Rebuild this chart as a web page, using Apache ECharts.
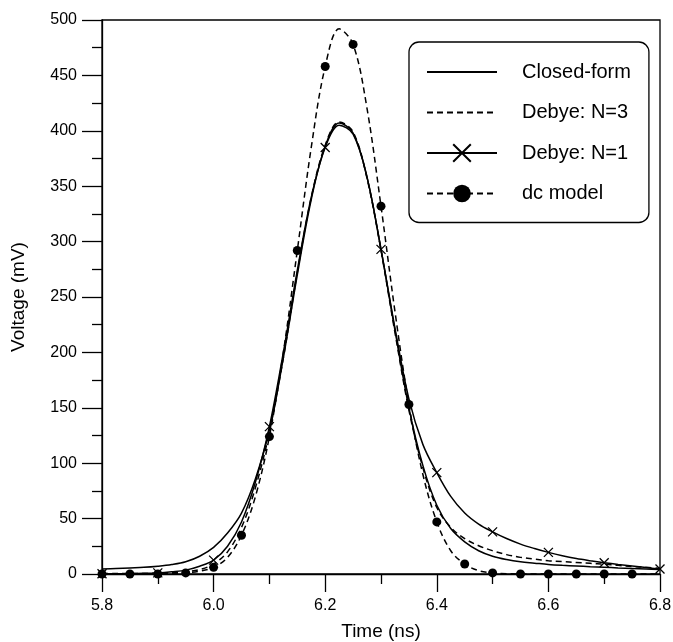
<!DOCTYPE html>
<html>
<head>
<meta charset="utf-8">
<script src="https://cdn.jsdelivr.net/npm/echarts@6/dist/echarts.min.js"></script>
<style>
  html, body { margin: 0; padding: 0; background: #fff; }
  #chart { width: 673px; height: 642px; }
</style>
</head>
<body>
<div id="chart"></div>
<script>
// Sample times (ns), 25 ps apart
const timeNs = [
  5.8, 5.825, 5.85, 5.875, 5.9, 5.925, 5.95, 5.975, 6.0, 6.025,
  6.05, 6.075, 6.1, 6.125, 6.15, 6.175, 6.2, 6.225, 6.25, 6.275,
  6.3, 6.325, 6.35, 6.375, 6.4, 6.425, 6.45, 6.475, 6.5, 6.525,
  6.55, 6.575, 6.6, 6.625, 6.65, 6.675, 6.7, 6.725, 6.75, 6.775, 6.8
];

// Voltage (mV) at each sample time
const closedForm = [
  4.5, 5, 5.5, 6, 7, 8.5, 11, 16, 24, 37,
  55, 86, 130, 195, 270, 338, 386, 407, 398, 358,
  293, 220, 150, 98, 62, 41, 29, 21, 16, 13,
  11, 9.8, 8.6, 7.8, 7.2, 6.6, 6.1, 5.5, 5, 4.5, 4
];
const debyeN3 = [
  0.5, 0.5, 0.5, 0.5, 0.8, 1.2, 2, 4, 9, 20,
  42, 78, 128, 195, 272, 340, 387, 408, 399, 357,
  292, 218, 148, 96, 60, 42, 32, 25.5, 21, 17.5,
  15, 13.5, 12, 11.2, 10.4, 9.6, 8.8, 7.8, 6.8, 6, 5.2
];
const debyeN1 = [
  0.3, 0.3, 0.4, 0.6, 1, 2, 3.5, 7, 12.5, 25,
  47, 83, 133, 200, 274, 340, 385, 405, 397, 358,
  293, 222, 158, 117, 91.5, 70, 55, 45, 38, 32,
  27, 23, 19.5, 16.5, 14, 12, 10.2, 8.6, 7.2, 5.8, 4.5
];
const dcModel = [
  0, 0, 0, 0, 0, 0.3, 1, 2.5, 6, 15,
  35, 70, 124, 200, 292, 385, 458, 492, 478, 420,
  332, 237, 153, 90, 47, 21, 9, 3, 1, 0.3,
  0, 0, 0, 0, 0, 0, 0, 0, 0, 0, 0
];

const seriesNames = ['Closed-form', 'Debye: N=3', 'Debye: N=1', 'dc model'];
const xTicks = { min: 5.8, max: 6.8, step: 0.2 };
const yTicks = { min: 0, max: 500, step: 50 };

const FONT = "'Liberation Sans', Arial, sans-serif";
const INK = '#000';

const pairs = (vals) => timeNs.map((t, i) => [t, vals[i]]);
// true when t lies on a multiple of the given step
const onStep = (t, step) => Math.abs(t / step - Math.round(t / step)) < 1e-6;

const chart = echarts.init(document.getElementById('chart'), null, { renderer: 'canvas' });

chart.setOption({
  backgroundColor: '#fff',
  animation: false,
  grid: {
    left: 102, right: 13, top: 20, bottom: 68,
    containLabel: false,
    outerBoundsMode: 'none',
    show: true, borderColor: INK, borderWidth: 1.3, backgroundColor: 'transparent'
  },
  legend: {
    orient: 'vertical',
    left: 409, top: 42,
    padding: [19, 18, 18, 17],
    itemGap: 18.5,
    itemWidth: 70,
    itemHeight: 22,
    borderColor: INK,
    borderWidth: 1.3,
    borderRadius: 10,
    backgroundColor: '#fff',
    selectedMode: false,
    textStyle: { color: INK, fontFamily: FONT, fontSize: 20, lineHeight: 22, padding: [0, 0, 0, 20] },
    data: [
      { name: seriesNames[0], itemStyle: { opacity: 0 } },
      { name: seriesNames[1], itemStyle: { opacity: 0 } },
      { name: seriesNames[2] },
      { name: seriesNames[3] }
    ]
  },
  xAxis: {
    type: 'value',
    min: xTicks.min, max: xTicks.max, interval: xTicks.step,
    name: 'Time (ns)',
    nameLocation: 'middle',
    nameGap: 48,
    nameTextStyle: { color: INK, fontFamily: FONT, fontSize: 19 },
    axisLine: { show: true, lineStyle: { color: INK, width: 1.3 } },
    axisTick: { show: true, inside: false, length: 18, lineStyle: { color: INK, width: 1.3 } },
    minorTick: { show: true, splitNumber: 2, length: 10, lineStyle: { color: INK, width: 1.3 } },
    splitLine: { show: false },
    axisLabel: {
      color: INK, fontFamily: FONT, fontSize: 16, margin: 24,
      formatter: (v) => v.toFixed(1)
    }
  },
  yAxis: {
    type: 'value',
    min: yTicks.min, max: yTicks.max, interval: yTicks.step,
    name: 'Voltage (mV)',
    nameLocation: 'middle',
    nameGap: 74,
    nameTextStyle: { color: INK, fontFamily: FONT, fontSize: 19 },
    axisLine: { show: true, lineStyle: { color: INK, width: 1.3 } },
    axisTick: { show: true, inside: false, length: 20, lineStyle: { color: INK, width: 1.3 } },
    minorTick: { show: true, splitNumber: 2, length: 10, lineStyle: { color: INK, width: 1.3 } },
    splitLine: { show: false },
    axisLabel: { color: INK, fontFamily: FONT, fontSize: 16, margin: 25 }
  },
  series: [
    {
      name: seriesNames[0],
      type: 'line',
      data: pairs(closedForm),
      smooth: 0.35,
      symbol: 'none',
      itemStyle: { color: INK },
      lineStyle: { color: INK, width: 1.5, type: 'solid' },
      z: 3
    },
    {
      name: seriesNames[1],
      type: 'line',
      data: pairs(debyeN3),
      smooth: 0.35,
      symbol: 'none',
      itemStyle: { color: INK },
      lineStyle: { color: INK, width: 1.5, type: [6, 4] },
      z: 3
    },
    {
      name: seriesNames[2],
      type: 'line',
      data: pairs(debyeN1),
      smooth: 0.35,
      symbol: 'path://M0,0L10,10M10,0L0,10',
      symbolSize: (v) => (onStep(v[0], 0.1) ? 9 : 0),
      itemStyle: { color: INK, borderColor: INK, borderWidth: 1.3 },
      lineStyle: { color: INK, width: 1.5, type: 'solid' },
      z: 4
    },
    {
      name: seriesNames[3],
      type: 'line',
      data: pairs(dcModel),
      smooth: 0.35,
      symbol: 'circle',
      symbolSize: (v) => (onStep(v[0], 0.05) && v[0] < 6.79 ? 9 : 0),
      itemStyle: { color: INK, borderWidth: 0 },
      lineStyle: { color: INK, width: 1.5, type: [6, 4] },
      z: 5
    }
  ]
});
</script>
</body>
</html>
